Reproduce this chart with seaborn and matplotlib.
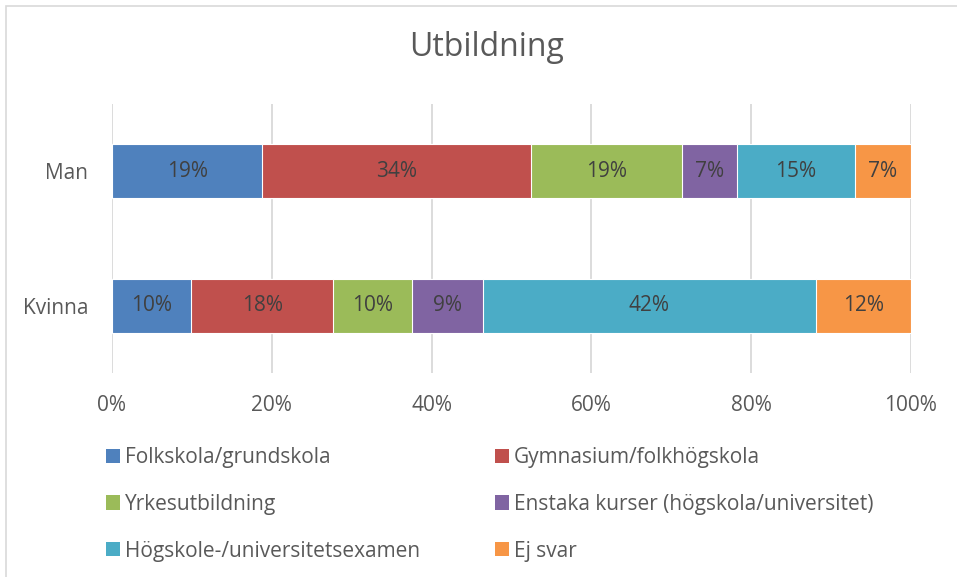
import matplotlib
matplotlib.use("Agg")
import matplotlib.pyplot as plt
from matplotlib.patches import Patch, Rectangle
import seaborn as sns
import numpy as np
import pandas as pd

# ---- data ----
categories = ["Man", "Kvinna"]
series = [
    "Folkskola/grundskola",
    "Gymnasium/folkhögskola",
    "Yrkesutbildning",
    "Enstaka kurser (högskola/universitet)",
    "Högskole-/universitetsexamen",
    "Ej svar",
]
man_values = [18.8, 33.6, 18.9, 6.9, 14.8, 7.0]
kvinna_values = [9.9, 17.8, 9.9, 8.8, 41.7, 11.9]
x_ticks = [0, 20, 40, 60, 80, 100]
title = "Utbildning"

colors = ["#4F81BD", "#C0504D", "#9BBB59", "#8064A2", "#4BACC6", "#F79646"]

sns.set_theme(style="white")
plt.rcParams["font.family"] = ["Open Sans", "DejaVu Sans"]

W, H = 957, 577
fig = plt.figure(figsize=(W / 100, H / 100), dpi=100)
fig.patch.set_facecolor("white")

# chart-area border (cropped at right/bottom in the reference)
fig.patches.append(Rectangle((6 / W, -0.1), 1.2, 1.1 - 5.5 / H, transform=fig.transFigure,
                             fill=False, edgecolor="#D9D9D9", linewidth=1.2, zorder=0))

ax = fig.add_axes([112 / W, 1 - 373 / H, 799 / W, 269 / H])

vals = np.array([man_values, kvinna_values])  # rows = categories
cum = np.cumsum(vals, axis=1)

df = pd.DataFrame({"category": categories})
for i in reversed(range(len(series))):
    df["cum"] = cum[:, i]
    sns.barplot(data=df, x="cum", y="category", orient="h", color=colors[i],
                width=0.4, edgecolor="white", linewidth=0.8, saturation=1, ax=ax)

FS = 15
# data labels
for r, cat in enumerate(categories):
    for i in range(len(series)):
        v = vals[r, i]
        ax.text(cum[r, i] - v / 2, r, f"{int(round(v))}%", ha="center", va="center",
                fontsize=FS, color="#404040")

ax.set_xlim(0, 100)
ax.set_ylim(1.5, -0.5)
ax.set_xticks(x_ticks)
ax.set_xticklabels([f"{t}%" for t in x_ticks])
ax.set_xlabel("")
ax.set_ylabel("")
ax.set_axisbelow(True)
ax.grid(axis="x", color="#D9D9D9", linewidth=1.3)
ax.grid(axis="y", visible=False)
for s in ax.spines.values():
    s.set_visible(False)
ax.tick_params(axis="x", length=0, pad=15.5, labelsize=FS, labelcolor="#595959")
ax.tick_params(axis="y", length=0, pad=17, labelsize=FS, labelcolor="#595959")

fig.text(487 / W, 1 - 48 / H, title, ha="center", va="center", fontsize=23, color="#595959")

handles = [Patch(facecolor=c, edgecolor="none", label=s) for c, s in zip(colors, series)]
leg_kw = dict(frameon=False, fontsize=FS, handlelength=0.67, handleheight=0.67,
              handletextpad=0.24, labelspacing=1.24, borderpad=0, borderaxespad=0,
              loc="upper left", labelcolor="#595959")
l1 = fig.legend(handles=handles[0::2], bbox_to_anchor=(106 / W, 1 - 447 / H), **leg_kw)
l2 = fig.legend(handles=handles[1::2], bbox_to_anchor=(495 / W, 1 - 447 / H), **leg_kw)

fig.savefig("out.png", dpi=100)
